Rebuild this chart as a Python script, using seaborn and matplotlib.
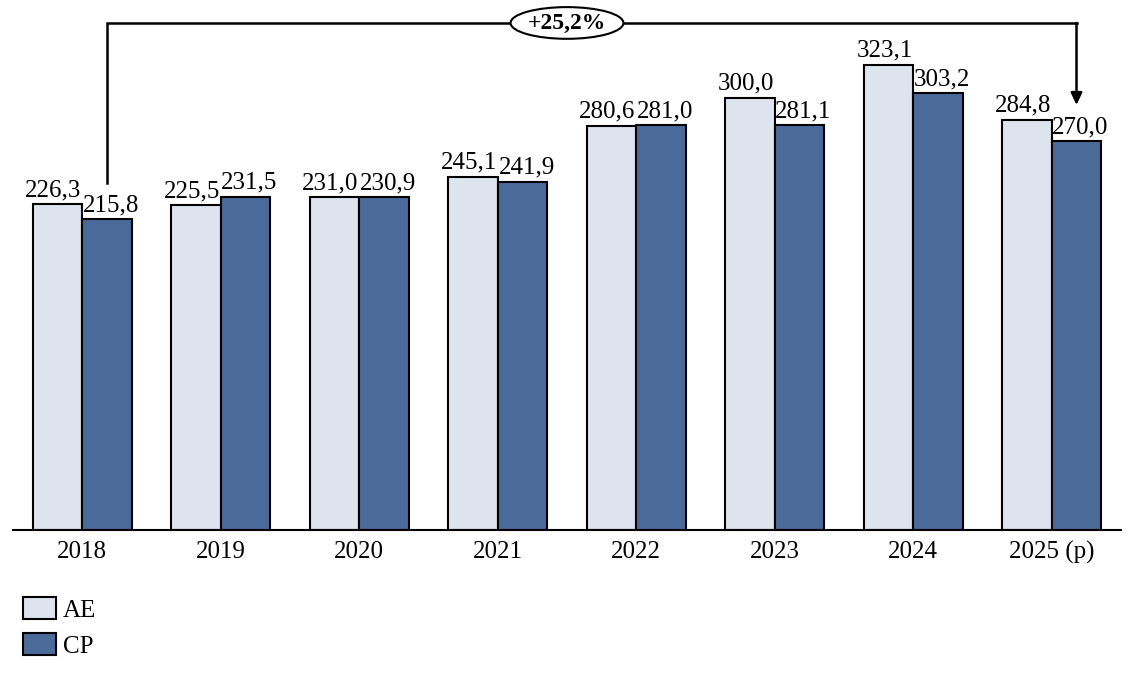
import matplotlib
matplotlib.use("Agg")
import matplotlib.pyplot as plt
import seaborn as sns
import pandas as pd

years = ["2018", "2019", "2020", "2021", "2022", "2023", "2024", "2025 (p)"]
ae = [226.3, 225.5, 231.0, 245.1, 280.6, 300.0, 323.1, 284.8]
cp = [215.8, 231.5, 230.9, 241.9, 281.0, 281.1, 303.2, 270.0]
series = ["AE", "CP"]
growth_label = "+25,2%"

colors = {"AE": "#dde4ee", "CP": "#4a6b9a"}

df = pd.DataFrame({
    "year": years * 2,
    "value": ae + cp,
    "series": ["AE"] * len(years) + ["CP"] * len(years),
})

sns.set_theme(style="white")
plt.rcParams["font.family"] = ["Liberation Serif", "DejaVu Serif"]
plt.rcParams["text.color"] = "black"

fig = plt.figure(figsize=(11.34, 6.74), dpi=100)
ax = fig.add_axes([13 / 1134, 144 / 674, 1108 / 1134, 520 / 674])

sns.barplot(data=df, x="year", y="value", hue="series", hue_order=series,
            palette=colors, edgecolor="black", linewidth=1.5, width=0.715,
            gap=0, saturation=1, ax=ax, legend=True)

# AE labels pushed a little left, CP labels a little right, as in the original
shifts = [-4, 4]
for c, dx in zip(ax.containers, shifts):
    for bar, v in zip(c, c.datavalues):
        ax.annotate(f"{v:.1f}".replace(".", ","),
                    (bar.get_x() + bar.get_width() / 2, bar.get_height()),
                    xytext=(dx, 3), textcoords="offset pixels",
                    ha="center", va="bottom", fontsize=18, color="black")

ax.set_xlim(-0.5, len(years) - 0.5)
ax.set_ylim(0, 361)
ax.set_xlabel("")
ax.set_ylabel("")
ax.set_yticks([])
ax.tick_params(axis="x", length=0, pad=8, labelsize=18, colors="black")
for s in ["left", "right", "top"]:
    ax.spines[s].set_visible(False)
ax.spines["bottom"].set_color("black")
ax.spines["bottom"].set_linewidth(1.5)

# bracket from the first CP bar to the last CP bar
off = 0.715 / 4
x0 = 0 + off
x1 = len(years) - 1 + off
ytop = 352
ax.plot([x0, x0, x1], [241, ytop, ytop], color="black", lw=1.8,
        solid_joinstyle="miter", solid_capstyle="projecting", clip_on=False)
ax.annotate("", xy=(x1, 295), xytext=(x1, ytop),
            arrowprops=dict(arrowstyle="-|>,head_length=0.6,head_width=0.28",
                            color="black", lw=1.8, shrinkA=0, shrinkB=0),
            annotation_clip=False)
ax.text((len(years) - 1) / 2, ytop, growth_label, ha="center", va="center",
        fontsize=17, fontweight="bold",
        bbox=dict(boxstyle="ellipse,pad=0.03", fc="white", ec="black", lw=1.5))

leg = ax.legend(loc="upper left", bbox_to_anchor=(23 / 1134, 77 / 674),
                bbox_transform=fig.transFigure, frameon=False, fontsize=18,
                handlelength=1.3, handleheight=1.0, handletextpad=0.3,
                labelspacing=0.45, borderaxespad=0, borderpad=0)
for t in leg.get_texts():
    t.set_color("black")

fig.savefig("out.png", dpi=100)
